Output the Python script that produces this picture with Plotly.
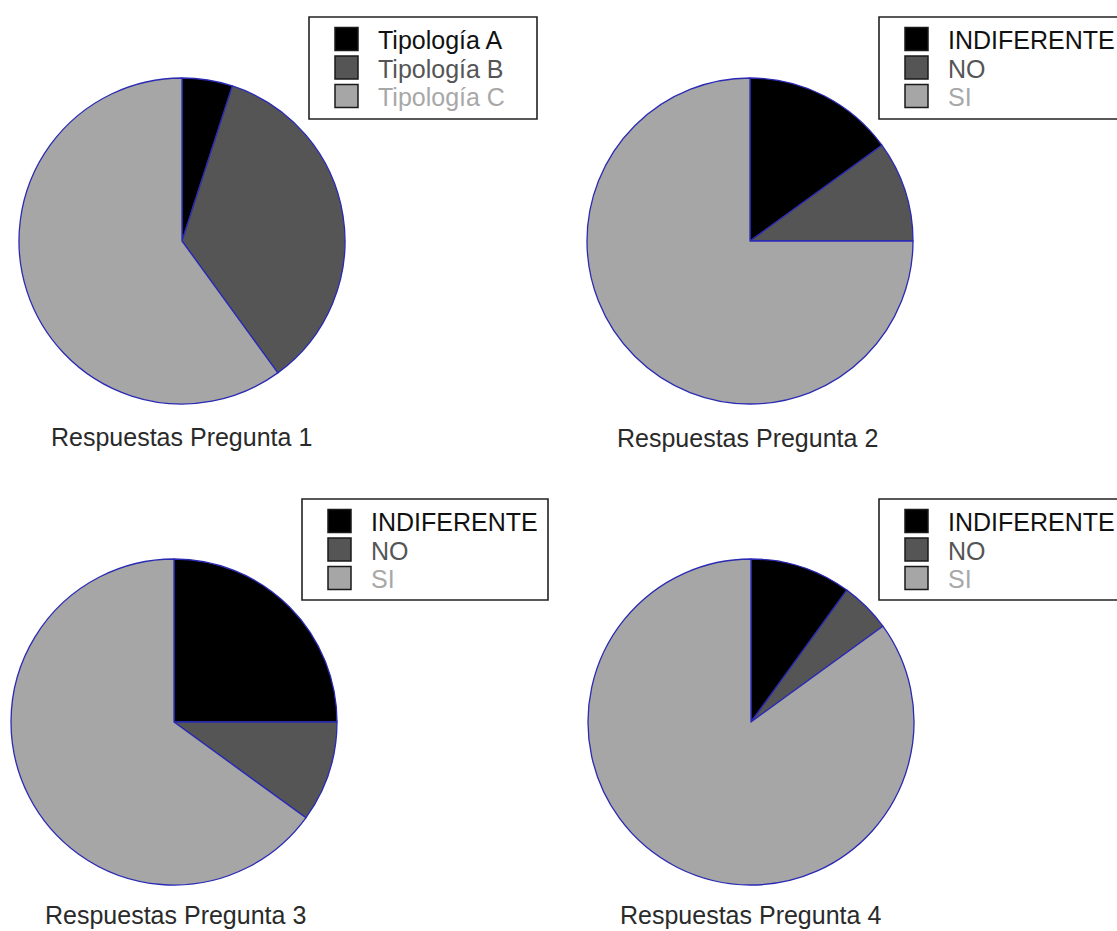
import plotly.graph_objects as go

W, H = 1117, 931

# ---- data ----
labels_p1 = ["Tipología A", "Tipología B", "Tipología C"]
values_p1 = [5, 35, 60]
labels_yn = ["INDIFERENTE", "NO", "SI"]
values_p2 = [15, 10, 75]
values_p3 = [25, 10, 65]
values_p4 = [10, 5, 85]
titles = ["Respuestas Pregunta 1", "Respuestas Pregunta 2",
          "Respuestas Pregunta 3", "Respuestas Pregunta 4"]

slice_colors = ["#000000", "#555555", "#a6a6a6"]
text_colors = ["#111111", "#555555", "#a8a8a8"]
edge_color = "#2a2ab4"
FONT = "Liberation Sans, Arial, sans-serif"

# layout (pixel) helpers
pies = [
    dict(labels=labels_p1, values=values_p1, cx=182, cy=241, r=163,
         title_xy=(181, 437), box=(309, 17, 537, 119)),
    dict(labels=labels_yn, values=values_p2, cx=750, cy=241, r=163,
         title_xy=(747, 438), box=(879, 17, 1130, 119)),
    dict(labels=labels_yn, values=values_p3, cx=174, cy=722, r=163,
         title_xy=(175, 915), box=(302, 499, 548, 600)),
    dict(labels=labels_yn, values=values_p4, cx=751, cy=722, r=163,
         title_xy=(750, 915), box=(879, 499, 1130, 600)),
]

def px(x):
    return x / W

def py(y):
    return 1 - y / H

fig = go.Figure()
shapes = []
annotations = []

for i, p in enumerate(pies):
    cx, cy, r = p["cx"], p["cy"], p["r"]
    fig.add_trace(go.Pie(
        labels=p["labels"], values=p["values"],
        sort=False, direction="clockwise", rotation=0,
        marker=dict(colors=slice_colors, line=dict(color=edge_color, width=1.3)),
        textinfo="none", showlegend=False,
        domain=dict(x=[px(cx - r), px(cx + r)], y=[py(cy + r), py(cy - r)]),
        name=titles[i],
    ))
    # title below the pie
    tx, ty = p["title_xy"]
    annotations.append(dict(
        text=titles[i], x=px(tx), y=py(ty), xref="paper", yref="paper",
        xanchor="center", yanchor="middle", showarrow=False,
        font=dict(family=FONT, size=25, color="#2a2a2a"),
    ))
    # legend box
    x0, y0, x1, y1 = p["box"]
    shapes.append(dict(type="rect", xref="paper", yref="paper",
                       x0=px(x0), x1=px(x1), y0=py(y1), y1=py(y0),
                       line=dict(color="#222222", width=1.6),
                       fillcolor="rgba(255,255,255,0)"))
    row_off = [22, 50.5, 79]
    for j, lab in enumerate(p["labels"]):
        rc = y0 + row_off[j]
        sx0 = x0 + 26
        shapes.append(dict(type="rect", xref="paper", yref="paper",
                           x0=px(sx0), x1=px(sx0 + 23),
                           y0=py(rc + 11.5), y1=py(rc - 11.5),
                           line=dict(color="#1a1a1a", width=1.5),
                           fillcolor=slice_colors[j]))
        annotations.append(dict(
            text=lab, x=px(x0 + 67), y=py(rc + 1), xref="paper", yref="paper",
            xanchor="left", yanchor="middle", showarrow=False,
            font=dict(family=FONT, size=25, color=text_colors[j]),
        ))

fig.update_layout(
    width=W, height=H,
    margin=dict(l=0, r=0, t=0, b=0),
    paper_bgcolor="white", plot_bgcolor="white",
    shapes=shapes, annotations=annotations,
    showlegend=False,
)

fig.write_html("out.html")
